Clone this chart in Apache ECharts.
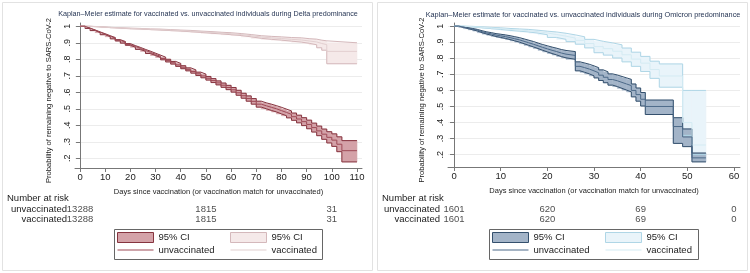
<!DOCTYPE html>
<html>
<head>
<meta charset="utf-8">
<script src="https://cdn.jsdelivr.net/npm/echarts@6/dist/echarts.min.js"></script>
<style>
  html, body { margin: 0; padding: 0; background: #fff; }
  #chart { width: 750px; height: 273px; }
</style>
</head>
<body>
<div id="chart"></div>
<script>
// --- Delta predominance (left panel) ---
const DELTA_UNVAC_DAYS = [0, 2, 4, 6, 8, 10, 12, 14, 16, 18, 20, 22, 24, 26, 28, 30, 32, 34, 36, 38, 40, 42, 44, 46, 48, 50, 52, 54, 56, 58, 60, 62, 64, 66, 68, 70, 72, 74, 76, 78, 80, 82, 84, 86, 88, 90, 92, 94, 96, 98, 100, 102, 104, 110];
const DELTA_UNVAC_EST = [1, .988, .976, .964, .952, .940, .928, .915, .903, .890, .878, .866, .854, .842, .830, .818, .805, .792, .779, .766, .752, .739, .726, .712, .699, .685, .671, .657, .643, .629, .615, .597, .579, .562, .545, .528, .518, .509, .500, .489, .478, .466, .452, .438, .422, .405, .386, .366, .346, .327, .310, .285, .246, .246];
const DELTA_UNVAC_LO = [1, .987, .974, .962, .949, .937, .924, .911, .898, .885, .873, .860, .848, .835, .823, .811, .797, .784, .771, .757, .743, .730, .716, .702, .688, .674, .659, .645, .630, .616, .601, .582, .564, .546, .528, .510, .500, .490, .481, .469, .458, .445, .430, .415, .398, .379, .359, .337, .315, .293, .272, .240, .178, .178];
const DELTA_UNVAC_HI = [1, .989, .978, .966, .955, .943, .932, .919, .908, .895, .883, .872, .860, .849, .837, .825, .813, .800, .787, .775, .761, .748, .736, .722, .710, .696, .683, .669, .656, .642, .629, .612, .594, .578, .562, .546, .536, .528, .519, .509, .498, .487, .474, .461, .446, .431, .413, .395, .377, .361, .348, .330, .307, .307];

const DELTA_VAC_DAYS = [0, 4, 8, 12, 16, 20, 24, 28, 32, 36, 40, 44, 48, 52, 56, 60, 64, 68, 72, 76, 80, 84, 88, 91, 94, 96, 98, 110];
const DELTA_VAC_EST = [1, .997, .993, .990, .987, .985, .982, .980, .977, .974, .971, .967, .963, .959, .955, .950, .943, .935, .930, .926, .921, .917, .911, .905, .896, .889, .848, .848];
const DELTA_VAC_LO = [1, .996, .992, .989, .985, .983, .980, .977, .974, .971, .967, .963, .958, .954, .949, .944, .936, .927, .921, .916, .910, .904, .897, .888, .870, .855, .773, .773];
const DELTA_VAC_HI = [1, .998, .994, .991, .989, .987, .984, .983, .980, .977, .975, .971, .968, .964, .961, .956, .950, .943, .939, .936, .932, .930, .925, .922, .916, .912, .900, .900];

const DELTA_RISK_DAYS = [0, 50, 100];
const DELTA_RISK_UNVAC = [13288, 1815, 31];
const DELTA_RISK_VAC = [13288, 1815, 31];

// --- Omicron predominance (right panel) ---
const OMI_UNVAC_DAYS = [0, 1, 2, 3, 4, 5, 6, 7, 8, 9, 10, 11, 12, 13, 14, 15, 16, 17, 18, 19, 20, 21, 22, 23, 24, 26, 27, 28, 29, 30, 31, 32, 33, 34, 35, 36, 37, 38, 39, 40, 41, 47, 49, 51, 54];
const OMI_UNVAC_EST = [1, .995, .988, .982, .975, .966, .958, .952, .945, .940, .935, .929, .922, .915, .906, .897, .888, .878, .868, .859, .850, .842, .833, .826, .818, .750, .742, .733, .722, .710, .695, .682, .668, .660, .650, .640, .630, .600, .574, .545, .500, .375, .310, .180, .180];
const OMI_UNVAC_LO = [1, .993, .985, .978, .970, .960, .951, .944, .936, .930, .924, .917, .909, .901, .891, .881, .871, .861, .850, .840, .830, .821, .811, .803, .794, .722, .713, .703, .691, .678, .662, .648, .633, .624, .613, .602, .591, .560, .533, .503, .450, .270, .250, .155, .155];
const OMI_UNVAC_HI = [1, .997, .991, .986, .980, .972, .965, .960, .954, .950, .946, .941, .935, .929, .921, .913, .905, .895, .886, .878, .870, .863, .855, .849, .842, .778, .771, .763, .753, .742, .728, .716, .703, .696, .687, .678, .669, .640, .615, .587, .540, .430, .360, .210, .210];

const OMI_VAC_DAYS = [0, 2, 4, 6, 8, 10, 12, 14, 16, 18, 20, 22, 24, 26, 28, 30, 32, 34, 36, 38, 40, 42, 44, 49, 51, 54];
const OMI_VAC_EST = [1, .997, .993, .989, .985, .980, .976, .972, .966, .958, .948, .938, .926, .912, .892, .873, .860, .844, .822, .795, .770, .730, .690, .400, .260, .260];
const OMI_VAC_LO = [1, .995, .990, .985, .980, .974, .969, .964, .957, .947, .930, .918, .904, .888, .865, .835, .820, .802, .778, .750, .718, .675, .620, .320, .200, .200];
const OMI_VAC_HI = [1, .999, .996, .993, .990, .986, .983, .980, .975, .969, .964, .956, .946, .934, .918, .906, .896, .884, .864, .838, .812, .782, .765, .600, .600, .600];

const OMI_RISK_DAYS = [0, 20, 40, 60];
const OMI_RISK_UNVAC = [1601, 620, 69, 0];
const OMI_RISK_VAC = [1601, 620, 69, 0];

const RISK_ROWS = ['unvaccinated', 'vaccinated'];
const Y_TICKS = [0.2, 0.3, 0.4, 0.5, 0.6, 0.7, 0.8, 0.9, 1.0];
const DELTA_X_TICKS = [0, 10, 20, 30, 40, 50, 60, 70, 80, 90, 100, 110];
const OMI_X_TICKS = [0, 10, 20, 30, 40, 50, 60];

const LEGEND_TEXT = {
  ciU1: '95% CI', ciV1: '95% CI', unvac1: 'unvaccinated', vac1: 'vaccinated',
  ciU2: '95% CI', ciV2: '95% CI', unvac2: 'unvaccinated', vac2: 'vaccinated'
};

const FONT = 'Liberation Sans, Arial, sans-serif';
const TXT = '#222';
const LINE_ICON = 'path://M0,0 L36,0 L36,1 L0,1 Z';

const COL = {
  d: { uEdge: '#86343f', uFill: '#d4a2a8', uLine: '#9e4a56', vEdge: '#d4b8bb', vFill: '#f5e9e9', vLine: '#e2cfd0' },
  o: { uEdge: '#34506d', uFill: '#a3b4c8', uLine: '#4d6a89', vEdge: '#afd6e6', vFill: '#e9f4fa', vLine: '#d4ebf3' }
};

function pairs(xs, ys) {
  return xs.map((x, i) => [x, ys[i]]);
}

// CI band fill: one rect per step interval, through the axis scales
function bandFill(name, idx, xs, lo, hi, fill) {
  const data = [];
  for (let i = 0; i < xs.length - 1; i++) data.push([xs[i], xs[i + 1], lo[i], hi[i]]);
  return {
    name: name, type: 'custom', xAxisIndex: idx, yAxisIndex: idx, data: data,
    encode: { x: [0, 1], y: [2, 3] }, clip: true, silent: true,
    itemStyle: { color: fill },
    renderItem: function (params, api) {
      const a = api.coord([api.value(0), api.value(3)]);
      const b = api.coord([api.value(1), api.value(2)]);
      return {
        type: 'rect',
        shape: { x: a[0], y: a[1], width: b[0] - a[0], height: b[1] - a[1] },
        style: { fill: fill, stroke: fill, lineWidth: 0.6 }
      };
    }
  };
}

function stepLine(name, idx, xs, ys, color) {
  return {
    name: name, type: 'line', step: 'end', xAxisIndex: idx, yAxisIndex: idx,
    symbol: 'none', data: pairs(xs, ys), silent: true,
    lineStyle: { color: color, width: 1 }, itemStyle: { color: color }
  };
}

function band(name, idx, xs, lo, hi, edge, fill) {
  return [
    bandFill(name, idx, xs, lo, hi, fill),
    stepLine(name, idx, xs, lo, edge),
    stepLine(name, idx, xs, hi, edge)
  ];
}

function riskSeries(idx, days, unvac, vac) {
  const data = [];
  days.forEach((d, i) => {
    data.push([d, RISK_ROWS[0], unvac[i]]);
    data.push([d, RISK_ROWS[1], vac[i]]);
  });
  return {
    type: 'scatter', xAxisIndex: idx, yAxisIndex: idx, data: data,
    symbolSize: 1, itemStyle: { color: 'rgba(0,0,0,0)' }, silent: true,
    label: {
      show: true, position: 'inside', formatter: p => String(p.value[2]),
      color: TXT, fontSize: 9.5, fontFamily: FONT
    },
    labelLayout: { hideOverlap: false }
  };
}

function plotX(idx, min, max, ticks) {
  return {
    gridIndex: idx, type: 'value', min: min, max: max,
    name: 'Days since vaccination (or vaccination match for unvaccinated)',
    nameLocation: 'middle', nameGap: 20,
    nameTextStyle: { fontSize: 7.5, color: TXT, fontFamily: FONT },
    axisLine: { lineStyle: { color: '#777', width: 1 } },
    axisTick: { customValues: ticks, length: 4, lineStyle: { color: '#777' } },
    axisLabel: { customValues: ticks, fontSize: 9.5, color: TXT, fontFamily: FONT, margin: 4 },
    splitLine: { show: false }
  };
}

function plotY(idx, min) {
  return {
    gridIndex: idx, type: 'value', min: min, max: 1.02,
    name: 'Probability of remaining negative to SARS-CoV-2',
    nameLocation: 'middle', nameGap: 22,
    // right padding nudges the rotated name a little down, as in the source
    nameTextStyle: { fontSize: 7.6, color: TXT, fontFamily: FONT, padding: [0, 10, 0, 0] },
    axisLine: { show: true, lineStyle: { color: '#777', width: 1 } },
    axisTick: { show: true, customValues: Y_TICKS, length: 4, lineStyle: { color: '#777' } },
    axisLabel: {
      customValues: Y_TICKS, rotate: 90, fontSize: 9, color: TXT, fontFamily: FONT, margin: 3,
      formatter: v => (v >= 0.999 ? '1' : '.' + Math.round(v * 10))
    },
    splitLine: { show: true, lineStyle: { color: '#ececec', width: 1 } }
  };
}

function riskX(idx, min, max) {
  return { gridIndex: idx, type: 'value', min: min, max: max, show: false };
}

function riskY(idx) {
  return {
    gridIndex: idx, type: 'category', data: RISK_ROWS, inverse: true,
    axisLine: { show: false }, axisTick: { show: false }, splitLine: { show: false },
    axisLabel: { interval: 0, margin: 8, fontSize: 9.5, color: TXT, fontFamily: FONT }
  };
}

// one legend per column so the two rows line up like the boxed Stata key
function legendCol(left, items) {
  return {
    left: left, top: 232, orient: 'vertical', padding: 0,
    itemGap: 2, itemWidth: 36, itemHeight: 10,
    textStyle: { fontSize: 9.5, color: TXT, fontFamily: FONT },
    formatter: n => LEGEND_TEXT[n],
    data: items
  };
}

function legendsFor(left1, left2, suffix, c) {
  return [
    legendCol(left1, [
      { name: 'ciU' + suffix, icon: 'rect', itemStyle: { color: c.uFill, borderColor: c.uEdge, borderWidth: 1 } },
      { name: 'unvac' + suffix, icon: LINE_ICON, itemStyle: { color: c.uLine } }
    ]),
    legendCol(left2, [
      { name: 'ciV' + suffix, icon: 'rect', itemStyle: { color: c.vFill, borderColor: c.vEdge, borderWidth: 1 } },
      { name: 'vac' + suffix, icon: LINE_ICON, itemStyle: { color: c.vLine } }
    ])
  ];
}

const chart = echarts.init(document.getElementById('chart'), null, { renderer: 'canvas' });

const option = {
  backgroundColor: '#fff',
  animation: false,
  title: [
    {
      text: 'Kaplan–Meier estimate for vaccinated vs. unvaccinated individuals during Delta predominance',
      left: 208, top: 11, textAlign: 'center', padding: 0,
      textStyle: { fontSize: 7.2, fontWeight: 'normal', color: '#1f2f4f', fontFamily: FONT }
    },
    {
      text: 'Kaplan–Meier estimate for vaccinated vs. unvaccinated individuals during Omicron predominance',
      left: 583, top: 11, textAlign: 'center', padding: 0,
      textStyle: { fontSize: 7.3, fontWeight: 'normal', color: '#1f2f4f', fontFamily: FONT }
    }
  ],
  grid: [
    { left: 75, right: 388, top: 23, bottom: 105 },
    { left: 448, right: 10, top: 23, bottom: 106 },
    { left: 75, right: 388, top: 204, height: 20 },
    { left: 448, right: 10, top: 204, height: 20 }
  ],
  xAxis: [
    plotX(0, -2, 112, DELTA_X_TICKS),
    plotX(1, -1.3, 61.3, OMI_X_TICKS),
    riskX(2, -2, 112),
    riskX(3, -1.3, 61.3)
  ],
  yAxis: [plotY(0, 0.141), plotY(1, 0.123), riskY(2), riskY(3)],
  legend: [
    ...legendsFor(117, 230, '1', COL.d),
    ...legendsFor(492, 605, '2', COL.o)
  ],
  graphic: [
    { type: 'rect', shape: { x: 2.5, y: 2.5, width: 370, height: 268 }, style: { fill: 'none', stroke: '#e2e2e2' }, z: -1 },
    { type: 'rect', shape: { x: 377.5, y: 2.5, width: 370, height: 268 }, style: { fill: 'none', stroke: '#e2e2e2' }, z: -1 },
    { type: 'rect', shape: { x: 114.5, y: 229.5, width: 208, height: 30 }, style: { fill: 'none', stroke: '#666', lineWidth: 1 } },
    { type: 'rect', shape: { x: 489.5, y: 229.5, width: 209, height: 30 }, style: { fill: 'none', stroke: '#666', lineWidth: 1 } },
    { type: 'text', x: 7, y: 198, style: { text: 'Number at risk', fontSize: 9.5, fill: TXT, fontFamily: FONT, verticalAlign: 'middle' } },
    { type: 'text', x: 382, y: 198, style: { text: 'Number at risk', fontSize: 9.5, fill: TXT, fontFamily: FONT, verticalAlign: 'middle' } }
  ],
  series: [
    ...band('ciV1', 0, DELTA_VAC_DAYS, DELTA_VAC_LO, DELTA_VAC_HI, COL.d.vEdge, COL.d.vFill),
    ...band('ciU1', 0, DELTA_UNVAC_DAYS, DELTA_UNVAC_LO, DELTA_UNVAC_HI, COL.d.uEdge, COL.d.uFill),
    stepLine('vac1', 0, DELTA_VAC_DAYS, DELTA_VAC_EST, COL.d.vLine),
    stepLine('unvac1', 0, DELTA_UNVAC_DAYS, DELTA_UNVAC_EST, COL.d.uLine),
    ...band('ciV2', 1, OMI_VAC_DAYS, OMI_VAC_LO, OMI_VAC_HI, COL.o.vEdge, COL.o.vFill),
    ...band('ciU2', 1, OMI_UNVAC_DAYS, OMI_UNVAC_LO, OMI_UNVAC_HI, COL.o.uEdge, COL.o.uFill),
    stepLine('vac2', 1, OMI_VAC_DAYS, OMI_VAC_EST, COL.o.vLine),
    stepLine('unvac2', 1, OMI_UNVAC_DAYS, OMI_UNVAC_EST, COL.o.uLine),
    riskSeries(2, DELTA_RISK_DAYS, DELTA_RISK_UNVAC, DELTA_RISK_VAC),
    riskSeries(3, OMI_RISK_DAYS, OMI_RISK_UNVAC, OMI_RISK_VAC)
  ]
};

chart.setOption(option);
</script>
</body>
</html>
